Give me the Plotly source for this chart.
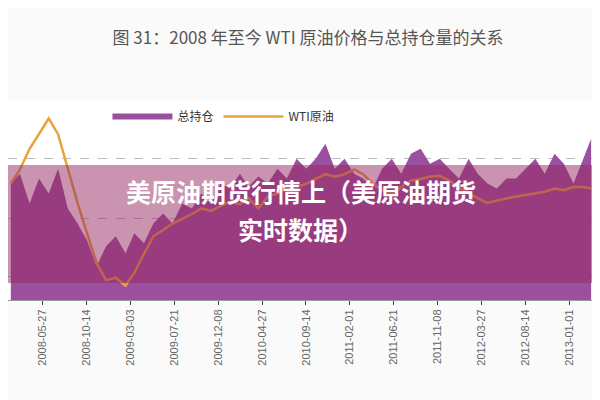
import plotly.graph_objects as go

months = ["2008-02-15", "2008-03-15", "2008-04-15", "2008-05-15", "2008-06-15", "2008-07-15",
          "2008-08-15", "2008-09-15", "2008-10-15", "2008-11-15", "2008-12-15", "2009-01-15",
          "2009-02-15", "2009-03-15", "2009-04-15", "2009-05-15", "2009-06-15", "2009-07-15",
          "2009-08-15", "2009-09-15", "2009-10-15", "2009-11-15", "2009-12-15", "2010-01-15",
          "2010-02-15", "2010-03-15", "2010-04-15", "2010-05-15", "2010-06-15", "2010-07-15",
          "2010-08-15", "2010-09-15", "2010-10-15", "2010-11-15", "2010-12-15", "2011-01-15",
          "2011-02-15", "2011-03-15", "2011-04-15", "2011-05-15", "2011-06-15", "2011-07-15",
          "2011-08-15", "2011-09-15", "2011-10-15", "2011-11-15", "2011-12-15", "2012-01-15",
          "2012-02-15", "2012-03-15", "2012-04-15", "2012-05-15", "2012-06-15", "2012-07-15",
          "2012-08-15", "2012-09-15", "2012-10-15", "2012-11-15", "2012-12-15", "2013-01-15",
          "2013-02-15", "2013-03-12"]
open_interest = [117, 127, 97, 122, 107, 132, 92, 77, 60, 34, 54, 64, 47, 67, 57, 77, 87, 77,
                 97, 92, 107, 97, 117, 112, 127, 114, 124, 117, 132, 122, 142, 132, 142, 157,
                 132, 142, 127, 122, 112, 132, 142, 127, 147, 152, 137, 142, 132, 122, 142, 127,
                 117, 112, 122, 122, 132, 142, 127, 147, 137, 117, 142, 162]
wti = [103, 112, 125, 134, 144, 134, 112, 91, 72, 53, 42.5, 44, 39, 47, 59, 70, 74, 78, 81,
       84, 87.5, 86, 89, 92, 90, 94, 87.5, 95, 97, 100, 101, 103, 106, 109, 107.5, 109, 112,
       109, 103, 99, 97, 101, 105, 106, 107.5, 108, 105, 101, 97, 94, 91, 92.5, 94, 95, 96,
       97, 98, 100, 99, 101, 101, 100]
tick_dates = ["2008-05-27", "2008-10-14", "2009-03-03", "2009-07-21", "2009-12-08", "2010-04-27",
              "2010-09-14", "2011-02-01", "2011-06-21", "2011-11-08", "2012-03-27", "2012-08-14",
              "2013-01-01"]

fig = go.Figure()
fig.add_trace(go.Scatter(x=months, y=open_interest, name="总持仓", fill="tozeroy",
                         mode="none", fillcolor="#9b4f9f"))
fig.add_trace(go.Scatter(x=months, y=wti, name="WTI原油", yaxis="y2", mode="lines",
                         line=dict(color="#e8a33a", width=2.5)))

fig.update_layout(
    width=600, height=400, margin=dict(l=0, r=15, t=92, b=108),
    paper_bgcolor="#fbfafa", plot_bgcolor="#ffffff",
    font=dict(family="Noto Sans CJK SC", color="#555"),
    title=dict(text="图 31：2008 年至今 WTI 原油价格与总持仓量的关系", x=0.5, y=0.94,
               xanchor="center", font=dict(size=17, color="#555")),
    showlegend=True,
    legend=dict(orientation="h", x=0.17, y=0.99, bgcolor="rgba(0,0,0,0)",
                font=dict(size=12, color="#333"), itemwidth=60),
    xaxis=dict(type="date", range=["2008-02-06", "2013-03-18"], tickvals=tick_dates,
               tickformat="%Y-%m-%d", tickangle=-90, ticks="outside", ticklen=4,
               tickfont=dict(size=11, color="#666", family="Liberation Sans"),
               showgrid=False, showline=True, linecolor="#999"),
    yaxis=dict(range=[0, 201], tickvals=[24, 82, 142, 200], showticklabels=False,
               gridcolor="#bbb", griddash="dash", zeroline=False),
    yaxis2=dict(range=[30, 155.6], overlaying="y", side="right", showticklabels=False,
                showgrid=False, showline=True, linecolor="#999", zeroline=False),
)

fig.add_shape(type="rect", xref="paper", yref="paper", x0=-0.01, x1=1.05, y0=0.085, y1=0.675,
              fillcolor="rgba(150,40,95,0.5)", line_width=0, layer="above")
fig.add_annotation(text="<b>美原油期货行情上（美原油期货</b>", xref="paper", yref="paper",
                   x=0.5, y=0.545, showarrow=False,
                   font=dict(size=25, color="white", family="Noto Sans CJK SC"))
fig.add_annotation(text="<b>实时数据）</b>", xref="paper", yref="paper",
                   x=0.5, y=0.355, showarrow=False,
                   font=dict(size=25, color="white", family="Noto Sans CJK SC"))

fig.write_html("out.html")
